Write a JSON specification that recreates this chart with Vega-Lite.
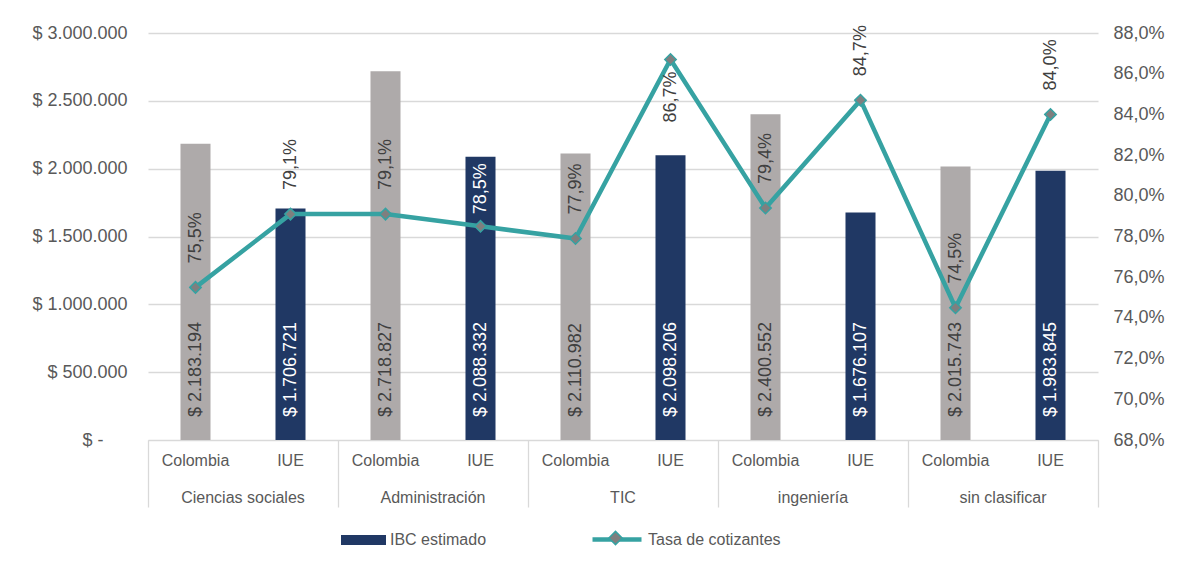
{
  "$schema": "https://vega.github.io/schema/vega-lite/v6.json",
  "width": 950,
  "height": 407,
  "autosize": {"type": "none"},
  "padding": {"left": 148, "top": 33, "right": 83, "bottom": 131},
  "background": "white",
  "config": {
    "font": "Liberation Sans",
    "view": {"stroke": null},
    "locale": {"number": {"decimal": ",", "thousands": ".", "grouping": [3], "currency": ["$ ", ""]}}
  },
  "data": {"values": [
    {"categoria": "Ciencias sociales", "grupo": "Colombia", "orden": 1, "ibc": 2183194, "tasa": 0.755},
    {"categoria": "Ciencias sociales", "grupo": "IUE", "orden": 2, "ibc": 1706721, "tasa": 0.791},
    {"categoria": "Administración", "grupo": "Colombia", "orden": 3, "ibc": 2718827, "tasa": 0.791},
    {"categoria": "Administración", "grupo": "IUE", "orden": 4, "ibc": 2088332, "tasa": 0.785},
    {"categoria": "TIC", "grupo": "Colombia", "orden": 5, "ibc": 2110982, "tasa": 0.779},
    {"categoria": "TIC", "grupo": "IUE", "orden": 6, "ibc": 2098206, "tasa": 0.867},
    {"categoria": "ingeniería", "grupo": "Colombia", "orden": 7, "ibc": 2400552, "tasa": 0.794},
    {"categoria": "ingeniería", "grupo": "IUE", "orden": 8, "ibc": 1676107, "tasa": 0.847},
    {"categoria": "sin clasificar", "grupo": "Colombia", "orden": 9, "ibc": 2015743, "tasa": 0.745},
    {"categoria": "sin clasificar", "grupo": "IUE", "orden": 10, "ibc": 1983845, "tasa": 0.84}
  ]},
  "layer": [
    {
      "mark": {"type": "bar", "width": {"band": 0.316}},
      "encoding": {
        "x": {"field": "orden", "type": "ordinal", "scale": {"paddingInner": 0, "paddingOuter": 0},
          "axis": {"orient": "bottom", "title": null, "ticks": false, "domain": true, "domainColor": "#d9d9d9", "grid": false,
            "labelAngle": 0, "labelFontSize": 16, "labelColor": "#595959", "labelPadding": 12,
            "labelExpr": "datum.value % 2 == 1 ? 'Colombia' : 'IUE'"}},
        "y": {"field": "ibc", "type": "quantitative", "scale": {"domain": [0, 3000000]},
          "axis": {"orient": "left", "title": null, "values": [0, 500000, 1000000, 1500000, 2000000, 2500000, 3000000],
            "format": "$,.0f", "labelExpr": "datum.value == 0 ? '$ -' : datum.label",
            "grid": true, "gridColor": "#d9d9d9", "gridWidth": 1.3, "domain": false, "ticks": false,
            "labelFontSize": 18, "labelColor": "#595959",
            "labelPadding": {"condition": {"test": "datum.value == 0", "value": 45}, "value": 21}}},
        "color": {"field": "grupo", "type": "nominal",
          "scale": {"domain": ["Colombia", "IUE"], "range": ["#AEAAAA", "#203864"]},
          "legend": {"orient": "none", "legendX": 193, "legendY": 484.5, "values": ["IUE"], "title": null,
            "labelExpr": "'IBC estimado'", "symbolType": "M-1,-0.222H1V0.222H-1Z", "symbolSize": 2025,
            "symbolStrokeWidth": 0, "labelFontSize": 16, "labelColor": "#595959", "labelOffset": 4, "padding": 0}}
      }
    },
    {
      "mark": {"type": "text", "angle": 270, "align": "left", "baseline": "middle", "dx": 23, "fontSize": 18},
      "encoding": {
        "x": {"field": "orden", "type": "ordinal", "scale": {"paddingInner": 0, "paddingOuter": 0},
          "axis": {"orient": "bottom", "title": null, "values": [1, 3, 5, 7, 9], "bandPosition": 0,
            "tickSize": 67, "tickColor": "#d9d9d9", "tickWidth": 1.3, "domain": false, "grid": false,
            "labelAngle": 0, "labelAlign": "center", "labelOffset": 47.5, "labelPadding": -18,
            "labelFontSize": 16, "labelColor": "#595959",
            "labelExpr": "['Ciencias sociales','Administración','TIC','ingeniería','sin clasificar'][floor((datum.value-1)/2)]"}},
        "y": {"datum": 0, "type": "quantitative", "scale": {"domain": [0, 3000000]}, "axis": null},
        "text": {"field": "ibc", "type": "quantitative", "format": "$,.0f"},
        "color": {"condition": {"test": "datum.grupo === 'IUE'", "value": "#ffffff"}, "value": "#404040"}
      }
    },
    {
      "mark": {"type": "line", "strokeWidth": 4.5},
      "encoding": {
        "x": {"field": "orden", "type": "ordinal", "scale": {"paddingInner": 0, "paddingOuter": 0},
          "axis": {"orient": "bottom", "title": null, "values": [10], "bandPosition": 1, "tickSize": 67,
            "tickColor": "#d9d9d9", "tickWidth": 1.3, "labels": false, "domain": false, "grid": false}},
        "y": {"field": "tasa", "type": "quantitative", "scale": {"domain": [0.68, 0.88]},
          "axis": {"orient": "right", "title": null, "values": [0.68, 0.7, 0.72, 0.74, 0.76, 0.78, 0.8, 0.82, 0.84, 0.86, 0.88],
            "format": ".1%", "grid": false, "domain": false, "ticks": false,
            "labelFontSize": 18, "labelColor": "#595959", "labelPadding": 15}},
        "order": {"field": "orden", "type": "quantitative"},
        "stroke": {"datum": "Tasa de cotizantes", "type": "nominal",
          "scale": {"domain": ["Tasa de cotizantes"], "range": ["#36A2A2"]},
          "legend": {"orient": "none", "legendX": 442, "legendY": 479.5, "title": null,
            "symbolType": "M-1,0H1", "symbolSize": 2401,
            "symbolStrokeWidth": 4.5,
            "labelFontSize": 16, "labelColor": "#595959", "labelOffset": 4, "padding": 0}}
      }
    },
    {
      "mark": {"type": "point", "shape": "diamond", "filled": true, "stroke": "#36A2A2", "strokeWidth": 1.5, "size": 130, "opacity": 1},
      "encoding": {
        "x": {"field": "orden", "type": "ordinal", "scale": {"paddingInner": 0, "paddingOuter": 0}, "axis": null},
        "y": {"field": "tasa", "type": "quantitative", "scale": {"domain": [0.68, 0.88]}, "axis": null},
        "fill": {"datum": "marcador", "type": "nominal",
          "scale": {"domain": ["marcador"], "range": ["#7f7f7f"]},
          "legend": {"orient": "none", "legendX": 442, "legendY": 479.5, "title": null,
            "symbolType": "M-0.27,0L0,-0.27L0.27,0L0,0.27Z", "symbolSize": 2401,
            "symbolStrokeColor": "#36A2A2", "symbolStrokeWidth": 1.5, "symbolOpacity": 1,
            "labelExpr": "''", "labelFontSize": 16, "labelOffset": 4, "padding": 0,
            "encode": {"symbols": {"update": {"stroke": {"value": "#36A2A2"}, "strokeWidth": {"value": 1.5}, "fill": {"value": "#7f7f7f"}, "opacity": {"value": 1}}}}}}
      }
    },
    {
      "transform": [{"filter": "datum.orden != 4 && datum.orden != 6"}],
      "mark": {"type": "text", "angle": 270, "align": "left", "baseline": "middle", "dx": 24, "fontSize": 18, "color": "#404040"},
      "encoding": {
        "x": {"field": "orden", "type": "ordinal", "scale": {"paddingInner": 0, "paddingOuter": 0}, "axis": null},
        "y": {"field": "tasa", "type": "quantitative", "scale": {"domain": [0.68, 0.88]}, "axis": null},
        "text": {"field": "tasa", "type": "quantitative", "format": ".1%"}
      }
    },
    {
      "transform": [{"filter": "datum.orden == 4"}],
      "mark": {"type": "text", "angle": 270, "align": "left", "baseline": "middle", "dx": 12, "fontSize": 18, "color": "#ffffff"},
      "encoding": {
        "x": {"field": "orden", "type": "ordinal", "scale": {"paddingInner": 0, "paddingOuter": 0}, "axis": null},
        "y": {"field": "tasa", "type": "quantitative", "scale": {"domain": [0.68, 0.88]}, "axis": null},
        "text": {"field": "tasa", "type": "quantitative", "format": ".1%"}
      }
    },
    {
      "transform": [{"filter": "datum.orden == 6"}],
      "mark": {"type": "text", "angle": 270, "align": "right", "baseline": "middle", "dx": -12, "fontSize": 18, "color": "#404040"},
      "encoding": {
        "x": {"field": "orden", "type": "ordinal", "scale": {"paddingInner": 0, "paddingOuter": 0}, "axis": null},
        "y": {"field": "tasa", "type": "quantitative", "scale": {"domain": [0.68, 0.88]}, "axis": null},
        "text": {"field": "tasa", "type": "quantitative", "format": ".1%"}
      }
    }
  ],
  "resolve": {"scale": {"y": "independent"}, "axis": {"x": "independent"}}
}
